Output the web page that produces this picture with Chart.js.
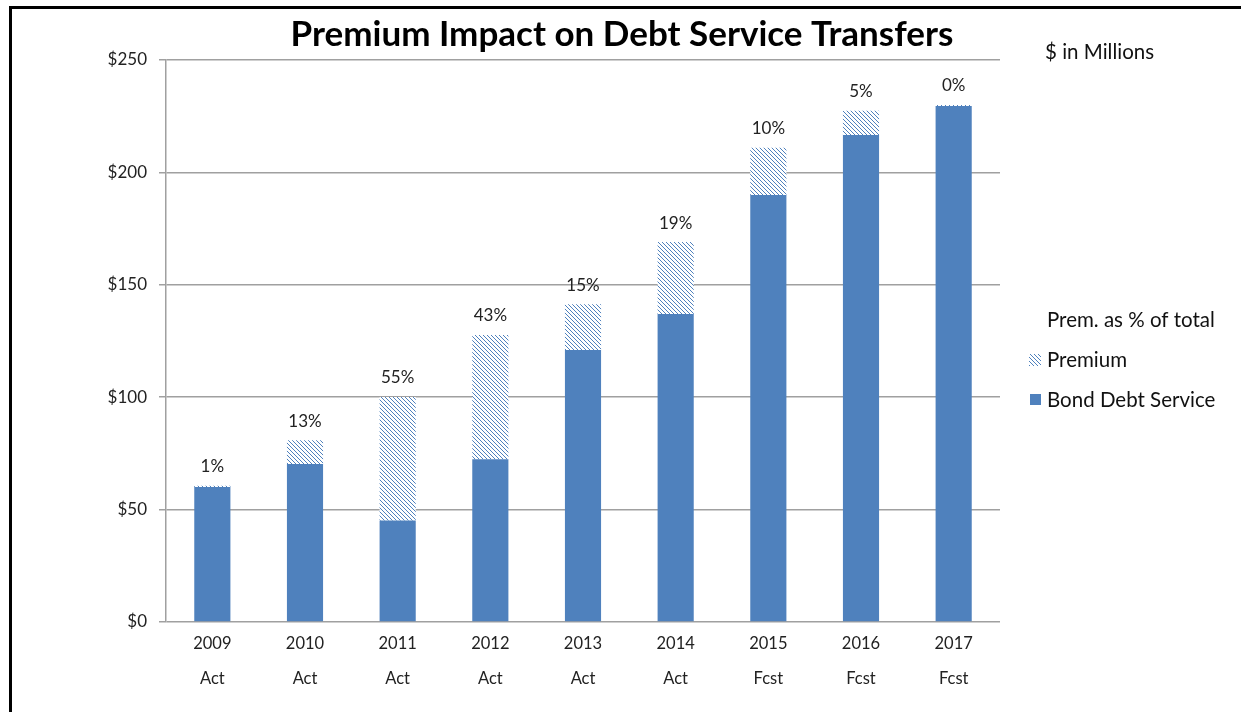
<!DOCTYPE html>
<html>
<head>
<meta charset="utf-8">
<title>Premium Impact on Debt Service Transfers</title>
<script src="https://cdn.jsdelivr.net/npm/chart.js@4.4.1/dist/chart.umd.min.js"></script>
<style>
  body { margin: 0; background: #fff; }
  #wrap { position: relative; width: 1241px; height: 712px; }
</style>
</head>
<body>
<div id="wrap"><canvas id="grafico" width="1241" height="712"></canvas></div>
<script>
// Datos ($ en millones)
const anios = ['2009', '2010', '2011', '2012', '2013', '2014', '2015', '2016', '2017'];
const tipos = ['Act', 'Act', 'Act', 'Act', 'Act', 'Act', 'Fcst', 'Fcst', 'Fcst'];
const bondDebtService = [60, 70.3, 45.1, 72.4, 121, 137, 190, 216.6, 229.5];
const premium = [0.6, 10.6, 55, 55.3, 20.3, 32, 21, 10.8, 0.5];
const pctLabels = ['1%', '13%', '55%', '43%', '15%', '19%', '10%', '5%', '0%'];
const yTicks = [0, 50, 100, 150, 200, 250];

const azul = '#4f81bd';
const fuente = 'Lato, "Open Sans", sans-serif';

// Patron rayado para la prima
function crearRayado() {
    const c = document.createElement('canvas');
    c.width = 4;
    c.height = 4;
    const g = c.getContext('2d');
    g.fillStyle = '#fff';
    g.fillRect(0, 0, 4, 4);
    g.strokeStyle = azul;
    g.lineWidth = 1;
    g.beginPath();
    g.moveTo(-1, -1); g.lineTo(5, 5);
    g.moveTo(3, -1); g.lineTo(5, 1);
    g.moveTo(-1, 3); g.lineTo(1, 5);
    g.stroke();
    return g.createPattern(c, 'repeat');
}
const rayado = crearRayado();

// Marco, titulo, leyenda y etiquetas de porcentaje
const extras = {
    id: 'extras',
    beforeDraw(chart) {
        const ctx = chart.ctx;
        ctx.save();
        ctx.fillStyle = '#fff';
        ctx.fillRect(0, 0, chart.width, chart.height);
        ctx.fillStyle = '#000';
        ctx.fillRect(9, 6, 1232, 3);
        ctx.fillRect(9, 6, 3, 706);
        ctx.restore();
    },
    afterDraw(chart) {
        const ctx = chart.ctx;
        ctx.save();
        // titulo
        ctx.fillStyle = '#000';
        ctx.font = 'bold 35px ' + fuente;
        ctx.textAlign = 'center';
        ctx.textBaseline = 'middle';
        ctx.fillText('Premium Impact on Debt Service Transfers', 622, 35);

        // nota y leyenda
        ctx.textAlign = 'left';
        ctx.fillStyle = '#111';
        ctx.font = '20.5px ' + fuente;
        ctx.fillText('$ in Millions', 1045, 52);
        ctx.fillText('Prem. as % of total', 1047, 320);
        ctx.fillText('Premium', 1047, 360);
        ctx.fillText('Bond Debt Service', 1047, 400);
        ctx.fillStyle = rayado;
        ctx.fillRect(1029, 354, 12, 12);
        ctx.fillStyle = azul;
        ctx.fillRect(1030, 394, 11, 11);

        // porcentajes sobre cada barra
        const meta = chart.getDatasetMeta(1);
        const y = chart.scales.y;
        ctx.fillStyle = '#222';
        ctx.font = '17px ' + fuente;
        ctx.textAlign = 'center';
        meta.data.forEach((bar, i) => {
            const tope = y.getPixelForValue(bondDebtService[i] + premium[i]);
            ctx.fillText(pctLabels[i], bar.x, tope - 19);
        });
        ctx.restore();
    }
};

const ctx = document.getElementById('grafico').getContext('2d');
new Chart(ctx, {
    type: 'bar',
    data: {
        labels: anios.map((a, i) => [a, tipos[i]]),
        datasets: [
            {
                label: 'Bond Debt Service',
                data: bondDebtService,
                backgroundColor: azul,
                barPercentage: 0.39,
                categoryPercentage: 1
            },
            {
                label: 'Premium',
                data: premium,
                backgroundColor: rayado,
                barPercentage: 0.39,
                categoryPercentage: 1
            }
        ]
    },
    options: {
        responsive: false,
        animation: false,
        layout: { padding: { left: 0, top: 60, right: 241, bottom: 0 } },
        plugins: {
            legend: { display: false },
            title: { display: false },
            tooltip: { enabled: false }
        },
        scales: {
            x: {
                stacked: true,
                grid: { display: false },
                border: { display: false },
                ticks: {
                    color: '#222',
                    padding: -4,
                    maxRotation: 0,
                    font: { family: fuente, size: 16.5, lineHeight: 2.12 }
                },
                afterFit(scale) { scale.height = 90; }
            },
            y: {
                stacked: true,
                min: 0,
                max: 250,
                afterBuildTicks(scale) {
                    scale.ticks = yTicks.map(v => ({ value: v }));
                },
                grid: { color: '#a0a0a0', lineWidth: 1.5, tickLength: 7 },
                border: { display: true, color: '#a0a0a0', width: 1.5 },
                ticks: {
                    color: '#222',
                    padding: 12,
                    font: { family: fuente, size: 17 },
                    callback: value => '$' + value
                },
                afterFit(scale) { scale.width = 166; }
            }
        }
    },
    plugins: [extras]
});
</script>
</body>
</html>
